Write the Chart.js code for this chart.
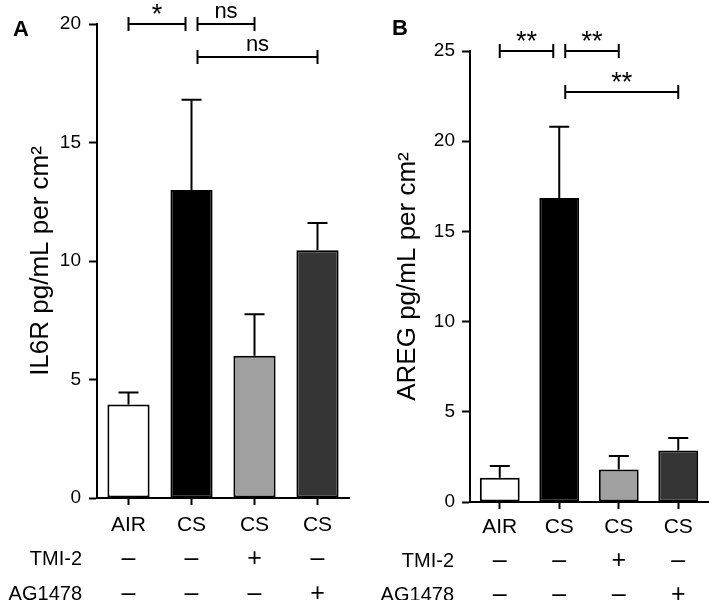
<!DOCTYPE html>
<html>
<head>
<meta charset="utf-8">
<title>IL6R and AREG release</title>
<script src="https://cdn.jsdelivr.net/npm/chart.js@4/dist/chart.umd.min.js"></script>
<style>
  html, body { margin: 0; padding: 0; background: #fff; }
  #wrap { position: relative; width: 709px; height: 600px; overflow: hidden; }
  canvas { position: absolute; top: 0; }
  #chartA { left: 0; }
  #chartB { left: 354px; }
</style>
</head>
<body>
<div id="wrap">
  <canvas id="chartA" width="354" height="600"></canvas>
  <canvas id="chartB" width="355" height="600"></canvas>
</div>
<script>
// ---------- Data ----------
const categories = ["AIR", "CS", "CS", "CS"];
const tmi2 = ["–", "–", "+", "–"];
const ag1478 = ["–", "–", "–", "+"];

const il6rMean = [3.95, 13.0, 6.0, 10.45];
const il6rSem = [0.5, 3.8, 1.75, 1.15];
const il6rTicks = [0, 5, 10, 15, 20];
const il6rSig = [
  { from: 0, to: 1, level: 20, label: "*" },
  { from: 1, to: 2, level: 20, label: "ns" },
  { from: 1, to: 3, level: 18.6, label: "ns" },
];

const aregMean = [1.35, 16.85, 1.8, 2.85];
const aregSem = [0.65, 3.95, 0.75, 0.7];
const aregTicks = [0, 5, 10, 15, 20, 25];
const aregSig = [
  { from: 0, to: 1, level: 25, label: "**" },
  { from: 1, to: 2, level: 25, label: "**" },
  { from: 1, to: 3, level: 22.7, label: "**" },
];

// ---------- Styling ----------
const FONT = "'Liberation Sans', Arial, Helvetica, sans-serif";
const fills = ["#ffffff", "#000000", "#a0a0a0", "#353535"];

// error bars (upper only, with cap)
const errorBars = {
  id: "errorBars",
  afterDatasetsDraw(chart, args, opts) {
    const { ctx } = chart;
    const y = chart.scales.y;
    const meta = chart.getDatasetMeta(0);
    ctx.save();
    ctx.strokeStyle = "#000";
    ctx.lineWidth = 2;
    opts.sem.forEach((e, i) => {
      const v = chart.data.datasets[0].data[i];
      const x = meta.data[i].x;
      const y0 = y.getPixelForValue(v);
      const y1 = y.getPixelForValue(v + e);
      ctx.beginPath();
      ctx.moveTo(x, y0);
      ctx.lineTo(x, y1);
      ctx.moveTo(x - 10, y1);
      ctx.lineTo(x + 10, y1);
      ctx.stroke();
    });
    ctx.restore();
  },
};

// significance brackets, treatment rows, panel letter
const annotations = {
  id: "annotations",
  afterDraw(chart, args, opts) {
    const { ctx, chartArea } = chart;
    const xs = chart.scales.x;
    const ys = chart.scales.y;
    ctx.save();
    ctx.strokeStyle = "#000";
    ctx.fillStyle = "#000";
    ctx.lineWidth = 2;

    opts.sig.forEach((s) => {
      const x1 = xs.getPixelForValue(s.from) + (s.from === 1 ? 6 : 0);
      const x2 = xs.getPixelForValue(s.to) - (s.to === 1 ? 6 : 0);
      const yy = Math.round(ys.getPixelForValue(s.level));
      ctx.beginPath();
      ctx.moveTo(x1, yy);
      ctx.lineTo(x2, yy);
      ctx.moveTo(x1, yy - 7);
      ctx.lineTo(x1, yy + 7);
      ctx.moveTo(x2, yy - 7);
      ctx.lineTo(x2, yy + 7);
      ctx.stroke();
      const star = s.label.indexOf("*") >= 0;
      ctx.font = (star ? "27px " : "22px ") + FONT;
      ctx.textAlign = "center";
      ctx.textBaseline = "alphabetic";
      ctx.fillText(s.label, (x1 + x2) / 2, yy - (star ? 1 : 6));
    });

    // treatment rows
    const rows = [
      { name: "TMI-2", signs: tmi2, dy: opts.rowDy[0] },
      { name: "AG1478", signs: ag1478, dy: opts.rowDy[1] },
    ];
    ctx.textBaseline = "middle";
    rows.forEach((r) => {
      const yy = chartArea.bottom + r.dy;
      ctx.font = "20px " + FONT;
      ctx.textAlign = "right";
      ctx.fillText(r.name, opts.rowLabelX, yy);
      ctx.font = "25px " + FONT;
      ctx.textAlign = "center";
      r.signs.forEach((sg, i) => {
        ctx.fillText(sg, xs.getPixelForValue(i), yy);
      });
    });

    // panel letter
    ctx.font = "bold 22px " + FONT;
    ctx.textAlign = "center";
    ctx.fillText(opts.letter, opts.letterX, opts.letterY);
    ctx.restore();
  },
};

function makeChart(id, cfg) {
  return new Chart(document.getElementById(id), {
    type: "bar",
    data: {
      labels: categories,
      datasets: [{
        data: cfg.mean,
        backgroundColor: fills,
        borderColor: "#000",
        borderWidth: 2,
        borderSkipped: false,
        categoryPercentage: 1,
        barPercentage: 0.67,
      }],
    },
    plugins: [errorBars, annotations],
    options: {
      responsive: false,
      animation: false,
      devicePixelRatio: 1,
      layout: { padding: { top: cfg.top, right: cfg.right, left: 0, bottom: 0 } },
      plugins: {
        legend: { display: false },
        tooltip: { enabled: false },
        errorBars: { sem: cfg.sem },
        annotations: {
          sig: cfg.sig,
          rowLabelX: cfg.rowLabelX,
          rowDy: cfg.rowDy,
          letter: cfg.letter,
          letterX: cfg.letterX,
          letterY: cfg.letterY,
        },
      },
      scales: {
        x: {
          afterFit: (s) => { s.height = 600 - cfg.bottom; },
          border: { color: "#000", width: 2 },
          grid: {
            drawOnChartArea: false,
            offset: false,
            tickLength: 7,
            tickWidth: 2,
            tickColor: "#000",
          },
          ticks: { color: "#000", padding: cfg.xPad, font: { family: FONT, size: 21 } },
        },
        y: {
          min: 0,
          max: cfg.ticks[cfg.ticks.length - 1],
          afterFit: (s) => { s.width = cfg.axisX; },
          afterBuildTicks: (s) => { s.ticks = cfg.ticks.map((v) => ({ value: v })); },
          border: { color: "#000", width: 2 },
          grid: {
            drawOnChartArea: false,
            tickLength: 8,
            tickWidth: 2,
            tickColor: "#000",
          },
          ticks: { color: "#000", padding: cfg.yPad, font: { family: FONT, size: 19 } },
          title: {
            display: true,
            text: cfg.title,
            color: "#000",
            font: { family: FONT, size: 26 },
            padding: { top: cfg.titlePad, bottom: 0 },
          },
        },
      },
    },
  });
}

makeChart("chartA", {
  mean: il6rMean, sem: il6rSem, ticks: il6rTicks, sig: il6rSig,
  title: "IL6R pg/mL per cm²",
  top: 24, bottom: 498, right: 5, axisX: 97,
  xPad: 8, yPad: 8, titlePad: 25,
  rowLabelX: 82, rowDy: [61, 96], letter: "A", letterX: 21, letterY: 30,
});

makeChart("chartB", {
  mean: aregMean, sem: aregSem, ticks: aregTicks, sig: aregSig,
  title: "AREG pg/mL per cm²",
  top: 51, bottom: 502, right: 1, axisX: 116,
  xPad: 6, yPad: 7, titlePad: 38,
  rowLabelX: 100, rowDy: [59, 93], letter: "B", letterX: 46, letterY: 29,
});
</script>
</body>
</html>
